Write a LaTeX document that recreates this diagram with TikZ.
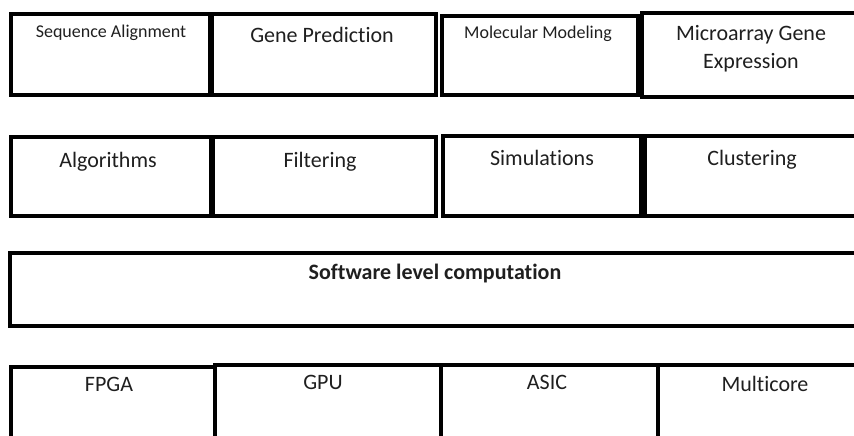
\documentclass[tikz,border=0pt]{standalone}
\usepackage{fontspec}
\setmainfont[Ligatures=NoCommon]{Carlito}
\begin{document}
\begin{tikzpicture}[x=1pt,y=-1pt,
  cell/.style={draw=black,line width=4pt,fill=none},
  big/.style={font=\fontsize{22}{27}\selectfont,text=black!88,anchor=base,inner sep=0pt,align=center},
  small/.style={font=\fontsize{18}{22}\selectfont,text=black!88,anchor=base,inner sep=0pt}]
\useasboundingbox (0,0) rectangle (854,436);
% Row 1
\draw[cell] (11,14) rectangle (210,95);
\draw[cell] (212,14) rectangle (436,95);
\draw[cell] (442,16) rectangle (638,95);
\draw[cell] (642,13) rectangle (872,97);
\node[small] (sa) at (111,38) {Sequence Alignment};
\node[big] (gp) at (322,43) {Gene Prediction};
\node[small] (mm) at (538,39) {Molecular Modeling};
\node[big] (mg) at (751,41) {Microarray Gene};
\node[big] (ex) at (751,68) {Expression};
% Row 2
\draw[cell] (11,137) rectangle (211,216);
\draw[cell] (213,137) rectangle (436,216);
\draw[cell] (443,136) rectangle (641,216);
\draw[cell] (645,136) rectangle (872,216);
\node[big] (al) at (108,167) {Algorithms};
\node[big] (fi) at (320,167) {Filtering};
\node[big] (si) at (542,165) {Simulations};
\node[big] (cl) at (752,165) {Clustering};
% Row 3
\draw[cell] (10,253) rectangle (872,326);
\node[big,font=\fontsize{22}{27}\selectfont\bfseries] (sw) at (435,279) {Software level computation};
% Row 4
\draw[cell] (11,367) rectangle (215,450);
\draw[cell] (215,365) rectangle (441,450);
\draw[cell] (441,365) rectangle (658,450);
\draw[cell] (658,365) rectangle (872,450);
\node[big] (fp) at (109,391) {FPGA};
\node[big] (gpu) at (323,389) {GPU};
\node[big] (as) at (547,389) {ASIC};
\node[big] (mc) at (765,391) {Multicore};
\end{tikzpicture}
\end{document}
